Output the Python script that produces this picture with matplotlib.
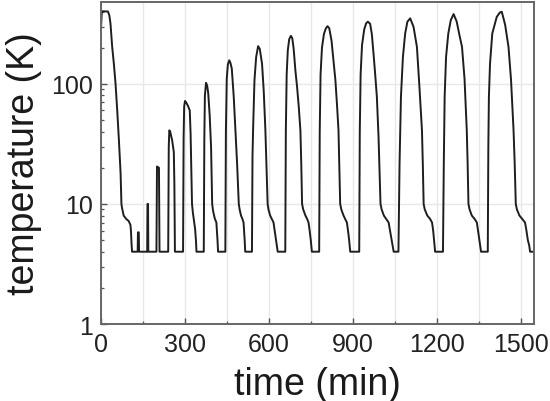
import matplotlib
matplotlib.use("Agg")
import matplotlib.pyplot as plt
from matplotlib.ticker import FixedLocator, LogLocator, NullFormatter

plt.rcParams['font.family'] = ['Liberation Sans', 'DejaVu Sans']

# time (min) and temperature (K)
time_min = [
    0, 3, 6, 25, 30, 34, 40, 46, 52, 58, 64, 70, 73, 75, 81, 90, 99, 105, 107, 109, 111,
    131, 132, 135, 136,
    165, 166, 168, 169,
    198, 200, 207, 209,
    240, 242, 244, 247, 254, 260, 262, 264,
    293, 295, 297, 300, 304, 310, 317, 320, 323, 325, 328, 333, 336, 339, 341,
    367, 369, 371, 375, 379, 383, 388, 393, 397, 400, 406, 412, 414, 416, 418,
    444, 446, 449, 453, 458, 462, 467, 474, 480, 486, 492, 495, 500, 505, 509, 511, 513, 515,
    539, 541, 543, 548, 554, 561, 567, 575, 581, 587, 591, 595, 598, 604, 610, 616, 620, 625, 631,
    658, 660, 663, 667, 672, 678, 683, 688, 694, 700, 706, 712, 715, 718, 722, 730, 736, 741, 745, 749, 753,
    779, 781, 784, 789, 796, 803, 809, 815, 823, 831, 837, 843, 848, 851, 854, 858, 866, 872, 878, 882, 886, 890,
    922, 924, 927, 932, 940, 947, 953, 961, 967, 973, 979, 985, 991, 995, 998, 1002, 1010, 1018, 1027, 1032, 1038, 1045,
    1062, 1064, 1066, 1071, 1078, 1086, 1094, 1104, 1116, 1128, 1137, 1146, 1149, 1152, 1156, 1165, 1175, 1182, 1186, 1189, 1193,
    1221, 1224, 1227, 1232, 1240, 1249, 1259, 1270, 1279, 1289, 1298, 1306, 1309, 1312, 1316, 1324, 1334, 1342, 1346, 1351, 1357,
    1381, 1383, 1385, 1389, 1397, 1413, 1424, 1431, 1443, 1455, 1464, 1473, 1477, 1481, 1485, 1494, 1504, 1514, 1519, 1524, 1529, 1532, 1548,
]
temp_K = [
    290, 400, 402, 400, 370, 316, 203, 147, 100, 60, 34, 18, 10, 9.3, 8, 7.5, 7.2, 6.7, 6.0, 4.7, 4,
    4, 5.8, 5.8, 4,
    4, 10, 10, 4,
    4, 20.5, 20, 4,
    4, 30, 41, 40, 34, 27, 15, 4,
    4, 35, 65, 72, 70, 66, 60, 38, 16, 10, 8.5, 7, 6.2, 5, 4,
    4, 35, 80, 102, 97, 83, 55, 30, 10, 8.8, 7.6, 7, 6, 5, 4,
    4, 40, 110, 145, 157, 150, 134, 78, 41, 21.6, 10, 9, 8, 7.5, 7, 6, 5, 4,
    4, 25, 41, 107, 167, 206, 195, 147, 88, 41, 20, 10, 9, 8, 7.5, 7, 6, 5, 4,
    4, 40, 120, 190, 235, 251, 240, 195, 130, 95, 65, 41, 22, 10, 9, 8, 7.5, 7, 6, 5, 4,
    4, 40, 120, 200, 260, 290, 302, 290, 230, 150, 107, 65, 41, 20, 10, 9, 8, 7.5, 7, 6, 5, 4,
    4, 40, 120, 210, 285, 320, 329, 316, 260, 179, 120, 78, 36, 18, 10, 9, 8, 7.5, 7, 6, 5, 4,
    4, 10, 21.7, 78, 167, 262, 329, 351, 298, 203, 94, 41, 21.7, 10, 9, 8, 7.5, 7, 6, 5, 4,
    4, 22, 78, 167, 262, 340, 381, 330, 260, 203, 110, 41, 22, 10, 9, 8, 7.5, 7, 6, 5, 4,
    4, 30, 78, 147, 262, 361, 392, 398, 310, 203, 108, 41, 22, 10, 9, 8, 7.5, 7, 6, 5, 4.5, 4, 4,
]

x_ticks = [0, 300, 600, 900, 1200, 1500]
x_minor = [150, 450, 750, 1050, 1350]
y_ticks = [1, 10, 100]
y_ticklabels = ["1", "10", "100"]

fig = plt.figure(figsize=(5.5, 4.02), dpi=100)
ax = fig.add_axes([0.1836, 0.1915, 0.9709 - 0.1836, 0.9925 - 0.1915])

ax.plot(time_min, temp_K, color="#1e1e1e", lw=1.4, solid_joinstyle="round")

ax.set_yscale("log")
ax.set_xlim(0, 1546)
ax.set_ylim(1, 480)

ax.xaxis.set_major_locator(FixedLocator(x_ticks))
ax.xaxis.set_minor_locator(FixedLocator(x_minor))
ax.set_yticks(y_ticks)
ax.set_yticklabels(y_ticklabels)
ax.yaxis.set_minor_locator(LogLocator(base=10, subs=range(2, 10)))
ax.yaxis.set_minor_formatter(NullFormatter())

ax.grid(True, which="major", color="#e8e8e8", lw=1.0)
ax.grid(True, which="minor", axis="x", color="#e8e8e8", lw=1.0)
ax.set_axisbelow(True)

ax.tick_params(axis="both", which="major", direction="in", length=4, width=1.0,
               color="#555555", labelsize=18, pad=6, labelcolor="#222222")
ax.tick_params(axis="both", which="minor", direction="in", length=2.5, width=0.9,
               color="#555555")
for s in ax.spines.values():
    s.set_color("#666666")
    s.set_linewidth(1.4)

ax.set_xlabel("time (min)", fontsize=27, color="#1a1a1a", labelpad=7)
ax.set_ylabel("temperature (K)", fontsize=27, color="#1a1a1a", labelpad=6)

fig.savefig("out.png", dpi=100)
